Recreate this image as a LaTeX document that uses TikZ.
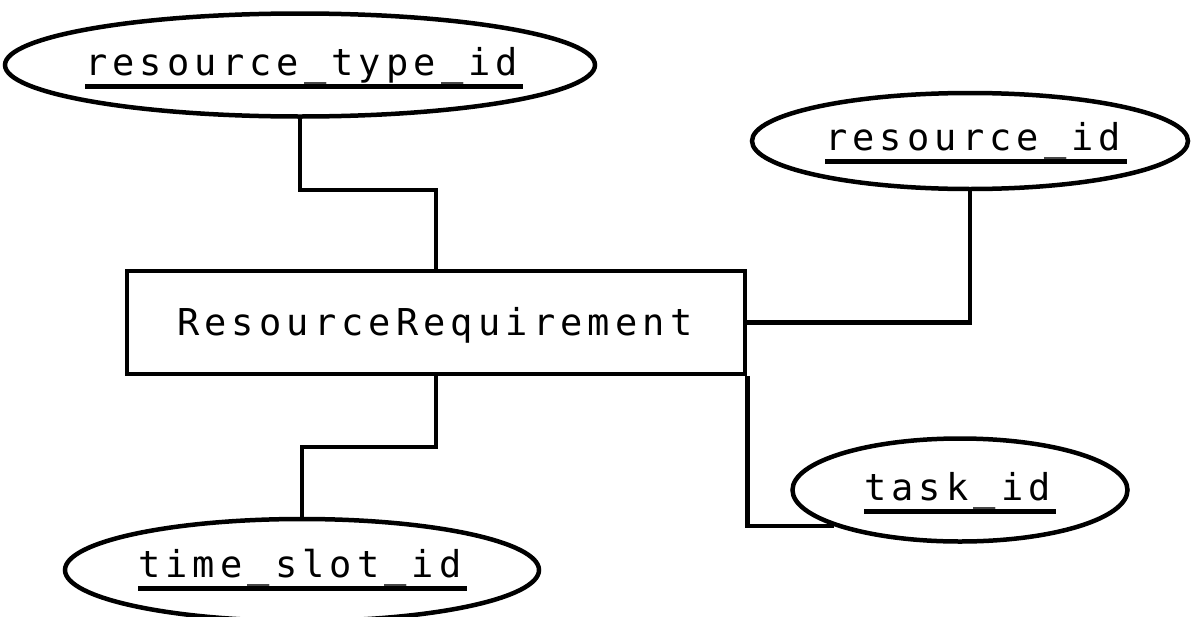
\documentclass[tikz,border=0pt]{standalone}
\usepackage{fontspec}
\usetikzlibrary{shapes.geometric}
\newfontfamily\ermono{DejaVu Sans Mono}[LetterSpace=13.8]

\tikzset{
  erline/.style={line width=4.5pt, black},
  attr/.style={draw, ellipse, line width=4.5pt, inner sep=0pt},
  entity/.style={draw, rectangle, line width=4.5pt, inner sep=0pt},
  label/.style={inner sep=0pt, anchor=base west, font=\ermono\fontsize{37}{40}\selectfont},
  keyline/.style={line width=5pt, black},
}

\begin{document}
\begin{tikzpicture}[x=1pt, y=-1pt]
  \useasboundingbox (0,0) rectangle (1191,616);

  % entity
  \node[entity, minimum width=618pt, minimum height=103pt] (rr) at (436,322.5) {};
  \node[label] (rrt) at (177,335) {ResourceRequirement};

  % attributes (key attributes are underlined)
  \node[attr, minimum width=590pt, minimum height=103pt] (rt) at (300,65) {};
  \node[attr, minimum width=436pt, minimum height=96pt] (rs) at (970,141) {};
  \node[attr, minimum width=335pt, minimum height=103pt] (tk) at (960,490) {};
  \node[attr, minimum width=474pt, minimum height=102pt] (ts) at (302,570) {};

  \node[label] (rtt) at (85,75) {resource\_type\_id};
  \node[label] (rst) at (825,150) {resource\_id};
  \node[label] (tkt) at (864,500) {task\_id};
  \node[label] (tst) at (138,577) {time\_slot\_id};

  \foreach \n in {rtt,rst,tkt,tst}
    \draw[keyline] ([yshift=-11pt]\n.base west) -- ([yshift=-11pt,xshift=5pt]\n.base east);

  % connectors
  \coordinate (c1) at (436,190);
  \coordinate (c2) at (302,447);
  \draw[erline] (rt.south) |- (c1) -- (rr.north);
  \draw[erline] (rr.east) -| (rs.south);
  \draw[erline] (rr.south) |- (c2) -- (ts.north);
  \draw[erline] (rr.south east) |- (tk.196);
\end{tikzpicture}
\end{document}
